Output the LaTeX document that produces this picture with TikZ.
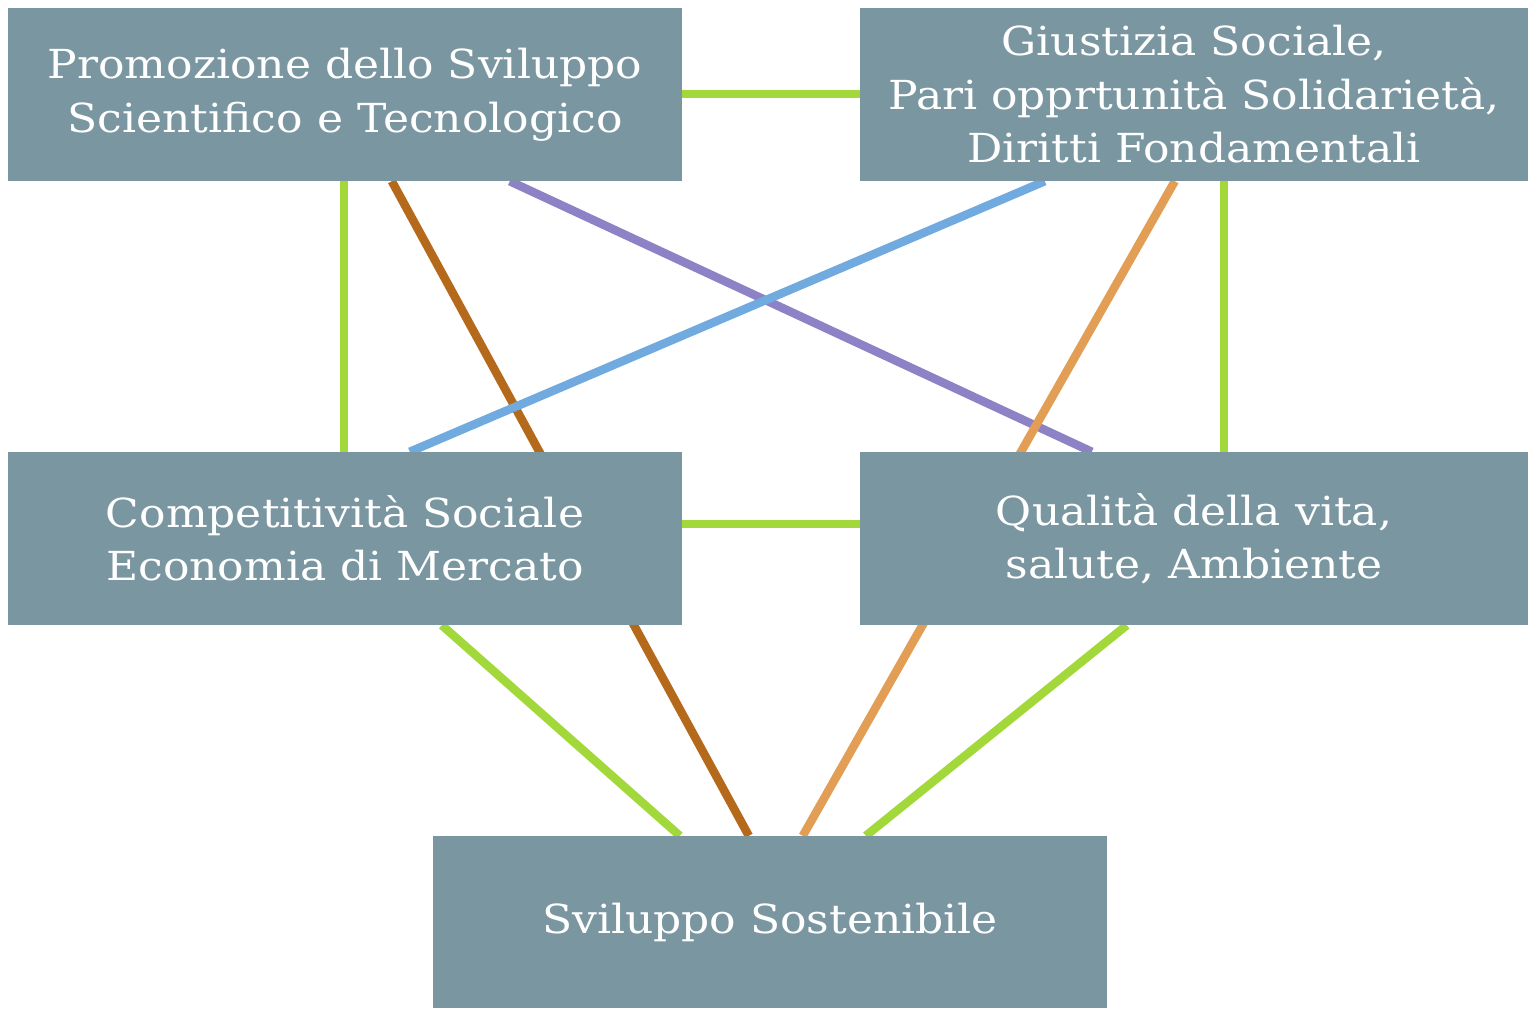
\documentclass[tikz,border=0pt]{standalone}
\usepackage{fontspec}
\setmainfont{DejaVu Serif}[FakeStretch=1.1]
\usetikzlibrary{calc,backgrounds}
\definecolor{boxc}{HTML}{7A96A0}
\definecolor{cgreen}{HTML}{A3D83B}
\definecolor{cbrown}{HTML}{B5691A}
\definecolor{cpurple}{HTML}{8E82C6}
\definecolor{cblue}{HTML}{70AADF}
\definecolor{corange}{HTML}{E39E56}
\begin{document}
\begin{tikzpicture}[x=1pt,y=-1pt,
  box/.style={fill=boxc,draw=none,text=white,align=center,inner sep=0pt,
    minimum height=173pt,font=\fontsize{40}{53.5}\selectfont},
  link/.style={line width=8.5pt}]
\useasboundingbox (0,0) rectangle (1529,1010);
\node[box,minimum width=674pt] (tl) at (345,94.5) {Promozione dello Sviluppo\\Scientifico e Tecnologico};
\node[box,minimum width=668pt] (tr) at (1194,94.5) {Giustizia Sociale,\\Pari opprtunità Solidarietà,\\Diritti Fondamentali};
\node[box,minimum width=674pt] (ml) at (345,538.5) {Competitività Sociale\\Economia di Mercato};
\node[box,minimum width=668pt] (mr) at (1194,538.5) {Qualità della vita,\\salute, Ambiente};
\node[box,minimum width=674pt,minimum height=172pt] (bot) at (770,922) {Sviluppo Sostenibile};
\begin{pgfonlayer}{background}
\draw[link,cgreen] ($(tl.north east)+(0,86)$) -- ($(tr.north west)+(0,86)$);
\draw[link,cgreen] ($(ml.north east)+(0,72)$) -- ($(mr.north west)+(0,72)$);
\draw[link,cgreen] ($(tl.south west)+(336,0)$) -- ($(ml.north west)+(336,0)$);
\draw[link,cgreen] ($(tr.south west)+(364,0)$) -- ($(mr.north west)+(364,0)$);
\draw[link,cbrown] ($(tl.south west)+(384,0)$) -- ($(bot.north west)+(316,0)$);
\draw[link,cpurple] ($(tl.south west)+(502,0)$) -- ($(mr.north west)+(232,0)$);
\draw[link,cblue] ($(tr.south west)+(185,0)$) -- ($(ml.north west)+(402,0)$);
\draw[link,corange] ($(tr.south west)+(315,0)$) -- ($(bot.north west)+(370,0)$);
\draw[link,cgreen] ($(ml.south west)+(434,0)$) -- ($(bot.north west)+(247,0)$);
\draw[link,cgreen] ($(mr.south west)+(267,0)$) -- ($(bot.north west)+(433,0)$);
\end{pgfonlayer}
\end{tikzpicture}
\end{document}
